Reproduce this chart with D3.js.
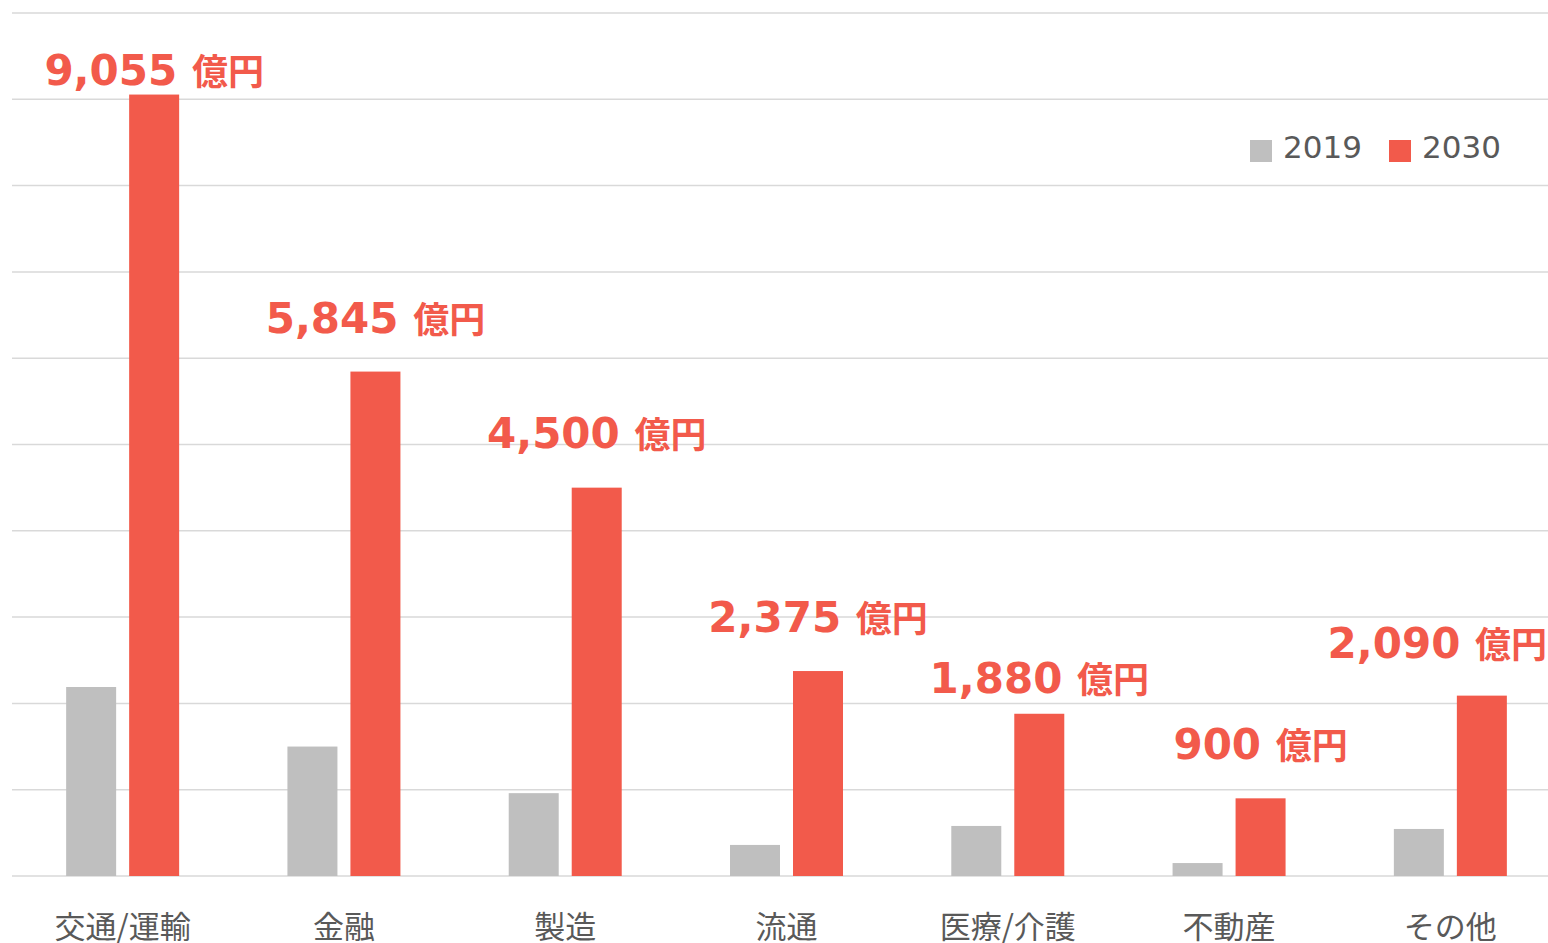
<!DOCTYPE html>
<html>
<head>
<meta charset="utf-8">
<script src="https://cdn.jsdelivr.net/npm/d3@7"></script>
<style>
  body { margin: 0; background: #fff; }
  svg { display: block; }
</style>
</head>
<body>
<div id="chart"></div>
<script>
const categories = ["交通/運輸", "金融", "製造", "流通", "医療/介護", "不動産", "その他"];
const values2019 = [2190, 1500, 960, 360, 580, 150, 545];
const values2030 = [9055, 5845, 4500, 2375, 1880, 900, 2090];
const seriesNames = ["2019", "2030"];
const yTicks = [0, 1000, 2000, 3000, 4000, 5000, 6000, 7000, 8000, 9000, 10000];

const size = { width: 1548, height: 943 };
const colors = { "2019": "#BFBFBF", "2030": "#F25A4B" };
const jpFont = "'Noto Sans CJK JP', 'Noto Sans', sans-serif";
const numFont = "'DejaVu Sans', Verdana, sans-serif";
// distance from bar top to label baseline (labels were placed by hand in the original)
const labelGap = [10, 39, 40, 39, 21, 39, 38];

const svg = d3.select("#chart").append("svg")
  .attr("width", size.width)
  .attr("height", size.height);

const x = d3.scaleBand()
  .domain(categories)
  .range([12, 1561]);

const y = d3.scaleLinear()
  .domain([0, 10000])
  .range([876, 13]);

// gridlines
svg.append("g")
  .selectAll("line")
  .data(yTicks)
  .join("line")
  .attr("x1", 12)
  .attr("x2", size.width)
  .attr("y1", (d) => y(d))
  .attr("y2", (d) => y(d))
  .attr("stroke", "#D9D9D9")
  .attr("stroke-width", 1.5);

const data = categories.map((c, i) => ({ cat: c, i, v19: values2019[i], v30: values2030[i] }));
const barW = 50;
const center = (d) => x(d.cat) + x.bandwidth() / 2;

svg.append("g")
  .selectAll("rect")
  .data(data)
  .join("rect")
  .attr("x", (d) => center(d) - 6.5 - barW)
  .attr("y", (d) => y(d.v19))
  .attr("width", barW)
  .attr("height", (d) => y(0) - y(d.v19))
  .attr("fill", colors["2019"]);

svg.append("g")
  .selectAll("rect")
  .data(data)
  .join("rect")
  .attr("x", (d) => center(d) + 6.5)
  .attr("y", (d) => y(d.v30))
  .attr("width", barW)
  .attr("height", (d) => y(0) - y(d.v30))
  .attr("fill", colors["2030"]);

// value labels on 2030 bars
const labels = svg.append("g")
  .selectAll("text")
  .data(data)
  .join("text")
  .attr("x", (d) => center(d) + 6.5 + barW / 2)
  .attr("y", (d) => y(d.v30) - labelGap[d.i])
  .attr("text-anchor", "middle")
  .attr("fill", colors["2030"])
  .style("font-weight", "bold");

labels.append("tspan")
  .style("font-family", numFont)
  .style("font-size", "42px")
  .text((d) => d3.format(",")(d.v30) + " ");

labels.append("tspan")
  .style("font-family", jpFont)
  .style("font-size", "36px")
  .text("億円");

// keep labels inside the frame
labels.each(function () {
  const b = this.getBBox();
  const over = b.x + b.width - (size.width - 1);
  if (over > 0) {
    d3.select(this).attr("x", +d3.select(this).attr("x") - over);
  }
});

// category labels
svg.append("g")
  .selectAll("text")
  .data(categories)
  .join("text")
  .attr("x", (d) => x(d) + x.bandwidth() / 2)
  .attr("y", 938)
  .attr("text-anchor", "middle")
  .attr("fill", "#595959")
  .style("font-family", jpFont)
  .style("font-size", "31px")
  .text((d) => d);

// legend
const legend = svg.append("g")
  .selectAll("g")
  .data(seriesNames)
  .join("g")
  .attr("transform", (d, i) => `translate(${1250 + i * 139}, 140)`);

legend.append("rect")
  .attr("width", 22)
  .attr("height", 22)
  .attr("fill", (d) => colors[d]);

legend.append("text")
  .attr("x", 33)
  .attr("y", 18)
  .attr("fill", "#595959")
  .style("font-family", numFont)
  .style("font-size", "31px")
  .text((d) => d);
</script>
</body>
</html>
